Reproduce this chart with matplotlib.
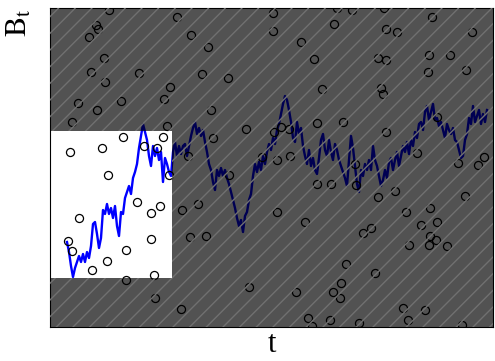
import matplotlib.pyplot as plt
import numpy as np
from matplotlib.path import Path
from matplotlib.patches import PathPatch

plt.rcParams['mathtext.fontset'] = 'stix'
plt.rcParams['font.family'] = ['Liberation Serif', 'DejaVu Serif']
plt.rcParams['hatch.linewidth'] = 1.0

path_x = [67, 69, 71, 73, 75, 77, 79, 81, 83, 85, 87, 89, 91, 93, 95, 97, 99, 101, 103, 105,
          107, 109, 111, 113, 115, 117, 119, 121, 123, 125, 127, 129, 131, 133, 135, 137, 139, 141, 143, 145,
          147, 149, 151, 153, 155, 157, 159, 161, 163, 165, 167, 169, 171, 173, 175, 177, 179, 181, 183, 185,
          187, 189, 191, 193, 195, 197, 199, 201, 203, 205, 207, 209, 211, 213, 215, 217, 219, 221, 223, 225,
          227, 229, 231, 233, 235, 237, 239, 241, 243, 245, 247, 249, 251, 253, 255, 257, 259, 261, 263, 265,
          267, 269, 271, 273, 275, 277, 279, 281, 283, 285, 287, 289, 291, 293, 295, 297, 299, 301, 303, 305,
          307, 309, 311, 313, 315, 317, 319, 321, 323, 325, 327, 329, 331, 333, 335, 337, 339, 341, 343, 345,
          347, 349, 351, 353, 355, 357, 359, 361, 363, 365, 367, 369, 371, 373, 375, 377, 379, 381, 383, 385,
          387, 389, 391, 393, 395, 397, 399, 401, 403, 405, 407, 409, 411, 413, 415, 417, 419, 421, 423, 425,
          427, 429, 431, 433, 435, 437, 439, 441, 443, 445, 447, 449, 451, 453, 455, 457, 459, 461, 463, 465,
          467, 469, 471, 473, 475, 477, 479, 481, 483, 485, 487]
path_y = [242, 252, 266, 277, 268, 262, 256, 262, 254, 262, 252, 258, 246, 224, 222, 234, 248, 238, 210, 214,
          204, 214, 208, 218, 206, 226, 236, 212, 214, 198, 192, 186, 194, 178, 172, 164, 148, 136, 124, 132,
          140, 156, 166, 146, 156, 148, 160, 152, 182, 158, 164, 172, 176, 152, 142, 156, 146, 154, 146, 144,
          156, 146, 136, 128, 122, 134, 128, 136, 130, 142, 152, 164, 170, 182, 190, 170, 176, 168, 176, 170,
          178, 184, 192, 200, 208, 218, 226, 220, 232, 216, 212, 200, 194, 176, 164, 172, 162, 170, 156, 164,
          152, 144, 150, 138, 144, 130, 124, 114, 104, 96, 100, 110, 122, 138, 142, 122, 134, 128, 146, 156,
          164, 150, 166, 158, 170, 174, 158, 140, 134, 150, 156, 140, 152, 160, 144, 150, 160, 166, 172, 178,
          186, 160, 136, 148, 166, 184, 192, 170, 176, 164, 170, 160, 170, 146, 160, 166, 176, 186, 180, 170,
          178, 162, 158, 170, 160, 152, 166, 156, 146, 152, 142, 154, 140, 146, 132, 138, 124, 122, 130, 112,
          106, 120, 112, 104, 120, 118, 126, 122, 130, 138, 124, 130, 134, 128, 140, 142, 150, 158, 156, 140,
          134, 118, 124, 106, 122, 116, 110, 124, 114, 122, 110]

# scattered open circles
circle_x = [109, 177, 273, 96, 98, 89, 191, 208, 273, 104, 91, 139, 202, 228, 105, 170, 78, 121, 164, 97,
            211, 72, 167, 246, 213, 123, 163, 70, 102, 144, 157, 108, 169, 229, 137, 160, 151, 182, 198, 79,
            68, 72, 151, 190, 206, 126, 107, 92, 154, 126, 249, 155, 181, 262, 188,
            337, 352, 384, 432, 334, 386, 397, 472, 301, 314, 378, 386, 429, 450, 428, 466, 322, 381, 383, 317,
            343, 274, 281, 289, 386, 437, 277, 290, 417, 355, 458, 478, 484, 317, 331, 356, 378, 395, 465, 277,
            305, 406, 430, 363, 371, 421, 437, 430, 436, 429, 409, 447, 346, 375, 341, 296, 333, 340, 403, 425,
            308, 330, 359, 408, 312, 462]
circle_y = [10, 17, 13, 25, 29, 37, 35, 47, 31, 58, 72, 73, 74, 78, 82, 87, 103, 101, 99, 110,
            110, 122, 126, 129, 138, 137, 137, 152, 148, 146, 148, 175, 175, 175, 202, 206, 213, 210, 204, 218,
            241, 251, 239, 237, 236, 250, 261, 270, 275, 280, 287, 298, 309, 157, 156,
            8, 10, 8, 17, 24, 29, 32, 32, 42, 59, 58, 60, 55, 55, 72, 70, 89, 88, 94, 123,
            122, 132, 127, 129, 132, 117, 160, 156, 153, 164, 163, 165, 157, 184, 184, 185, 197, 191, 196, 212,
            222, 212, 208, 233, 228, 225, 222, 236, 240, 245, 245, 246, 264, 273, 283, 292, 292, 298, 308, 310,
            318, 320, 323, 320, 326, 325]

# the unshaded window (same units)
window_x = [50, 172]
window_y = [131, 278]

# plot frame in the same units
frame_x = [50, 493]
frame_y = [8, 327]

W, H = 495, 361
# tiny extra so the pixel height does not truncate to 360
fig = plt.figure(figsize=(W / 100, H / 100 + 1e-6), dpi=100)
ax = fig.add_axes([frame_x[0] / W, (H - frame_y[1]) / H,
                   (frame_x[1] - frame_x[0]) / W, (frame_y[1] - frame_y[0]) / H])

# convert to t / B (B grows upward)
t = np.array(path_x) - frame_x[0]
b = frame_y[1] - np.array(path_y)
ct = np.array(circle_x) - frame_x[0]
cb = frame_y[1] - np.array(circle_y)
tmax = frame_x[1] - frame_x[0]
bmax = frame_y[1] - frame_y[0]

ax.plot(t, b, color='#0000ff', lw=1.7, zorder=2)
ax.plot(ct, cb, 'o', ms=5.8, mfc='none', mec='black', mew=0.9, zorder=3)

# shaded region = whole frame minus the window (inner square reversed -> hole)
wx0, wx1 = window_x[0] - frame_x[0], window_x[1] - frame_x[0]
wy0, wy1 = frame_y[1] - window_y[1], frame_y[1] - window_y[0]
verts = [(0, 0), (tmax, 0), (tmax, bmax), (0, bmax), (0, 0),
         (wx0, wy0), (wx0, wy1), (wx1, wy1), (wx1, wy0), (wx0, wy0)]
codes = [Path.MOVETO, Path.LINETO, Path.LINETO, Path.LINETO, Path.CLOSEPOLY] * 2
shade = PathPatch(Path(verts, codes), facecolor=(0, 0, 0, 0.68), edgecolor='#707070',
                  hatch='//', lw=0, zorder=4)
ax.add_patch(shade)

ax.set_xlim(0, tmax)
ax.set_ylim(0, bmax)
ax.set_xticks([])
ax.set_yticks([])
ax.set_xlabel('t', fontsize=22, labelpad=2)
ax.set_ylabel(r'$\mathrm{B}_\mathrm{t}$', fontsize=22, loc='top', labelpad=12)

fig.savefig('out.png', dpi=100)
